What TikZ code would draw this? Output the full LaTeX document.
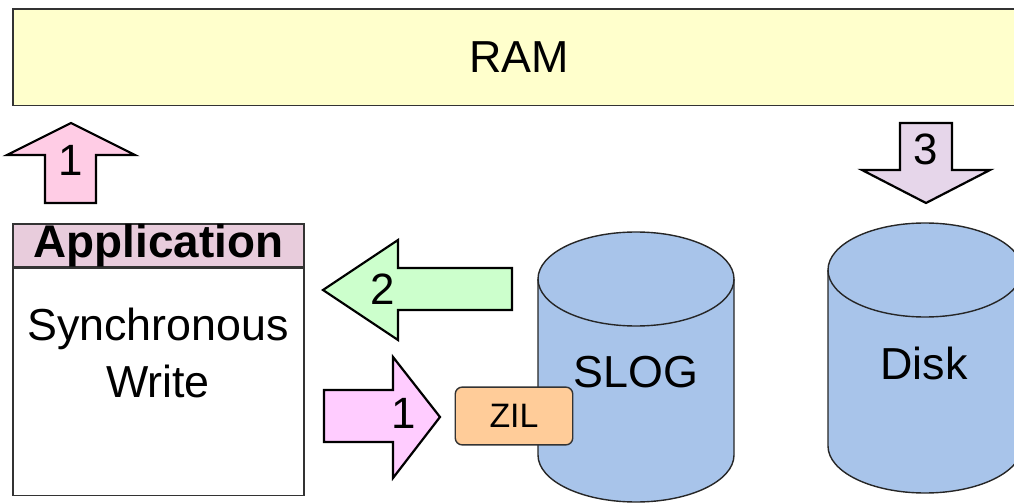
\documentclass[tikz,border=0pt]{standalone}
\usepackage{fontspec}
\setmainfont{Liberation Sans}
\usetikzlibrary{positioning}
\definecolor{ramyellow}{HTML}{FFFFCC}
\definecolor{pinkup}{HTML}{FFCCE5}
\definecolor{pinkright}{HTML}{FFCCFF}
\definecolor{greenleft}{HTML}{CCFFCC}
\definecolor{lavdown}{HTML}{E6D6EA}
\definecolor{apphead}{HTML}{E8CCDC}
\definecolor{cylblue}{HTML}{A8C4EA}
\definecolor{zilorange}{HTML}{FFCC99}
\begin{document}
\begin{tikzpicture}[x=1bp, y=1bp,
  box/.style={draw=black!80, line width=1.6bp, inner sep=0pt},
  blockarrow/.style={draw=black, line width=2.2bp, line join=miter},
  disk/.style={draw=black!85, line width=1.4bp, fill=cylblue},
  big/.style={font=\fontsize{45}{57}\selectfont, inner sep=0pt},
  num/.style={font=\fontsize{44}{50}\selectfont, inner sep=0pt}]
\useasboundingbox (0,0) rectangle (1014,-504);
% memory at the top
\node[box, big, fill=ramyellow, anchor=north west, minimum width=1016, minimum height=97] (ram) at (12,-8) {RAM};
% application box
\node[box, fill=apphead, anchor=north west, minimum width=292, minimum height=43,
  font=\fontsize{46}{50}\selectfont\bfseries] (apph) at (12,-223) {Application};
\node[box, fill=white, anchor=north west, minimum width=292, minimum height=228] (appb) at (apph.south west) {};
\node[big, align=center] (appw) at (158,-353) {Synchronous\\Write};
% block arrows
\draw[blockarrow, fill=pinkup] (45,-203) -- (45,-155) -- (7,-155) -- (71,-123) -- (135,-155) -- (96,-155) -- (96,-203) -- cycle;
\node[num] (n1up) at (71,-160) {1};
\draw[blockarrow, fill=greenleft] (512,-268) -- (512,-310) -- (398,-310) -- (398,-340) -- (323,-290) -- (398,-240) -- (398,-268) -- cycle;
\node[num] (n2) at (383,-289) {2};
\draw[blockarrow, fill=pinkright] (324,-390) -- (393,-390) -- (393,-357) -- (440,-417) -- (393,-478) -- (393,-442) -- (324,-442) -- cycle;
\node[num] (n1r) at (404,-413) {1};
\draw[blockarrow, fill=lavdown] (900,-123) -- (952,-123) -- (952,-170) -- (990,-170) -- (926,-203) -- (862,-170) -- (900,-170) -- cycle;
\node[num] (n3) at (926,-149) {3};
% disks
\draw[disk] (538,-279) -- (538,-455) arc[start angle=180, end angle=360, x radius=98, y radius=47]
  -- (734,-279) arc[start angle=0, end angle=180, x radius=98, y radius=47] -- cycle;
\draw[disk, fill=none] (538,-279) arc[start angle=180, end angle=360, x radius=98, y radius=47];
\node[big] (slog) at (636,-372) {SLOG};
\draw[disk] (828,-270) -- (828,-446) arc[start angle=180, end angle=360, x radius=97, y radius=47]
  -- (1022,-270) arc[start angle=0, end angle=180, x radius=97, y radius=47] -- cycle;
\draw[disk, fill=none] (828,-270) arc[start angle=180, end angle=360, x radius=97, y radius=47];
\node[big] (disk) at (924,-363) {Disk};
% intent log on the slog
\node[draw=black!80, line width=1.4bp, rounded corners=7bp, fill=zilorange, minimum width=118, minimum height=58,
  font=\fontsize{34}{40}\selectfont] (zil) at (514,-416) {ZIL};
\end{tikzpicture}
\end{document}
